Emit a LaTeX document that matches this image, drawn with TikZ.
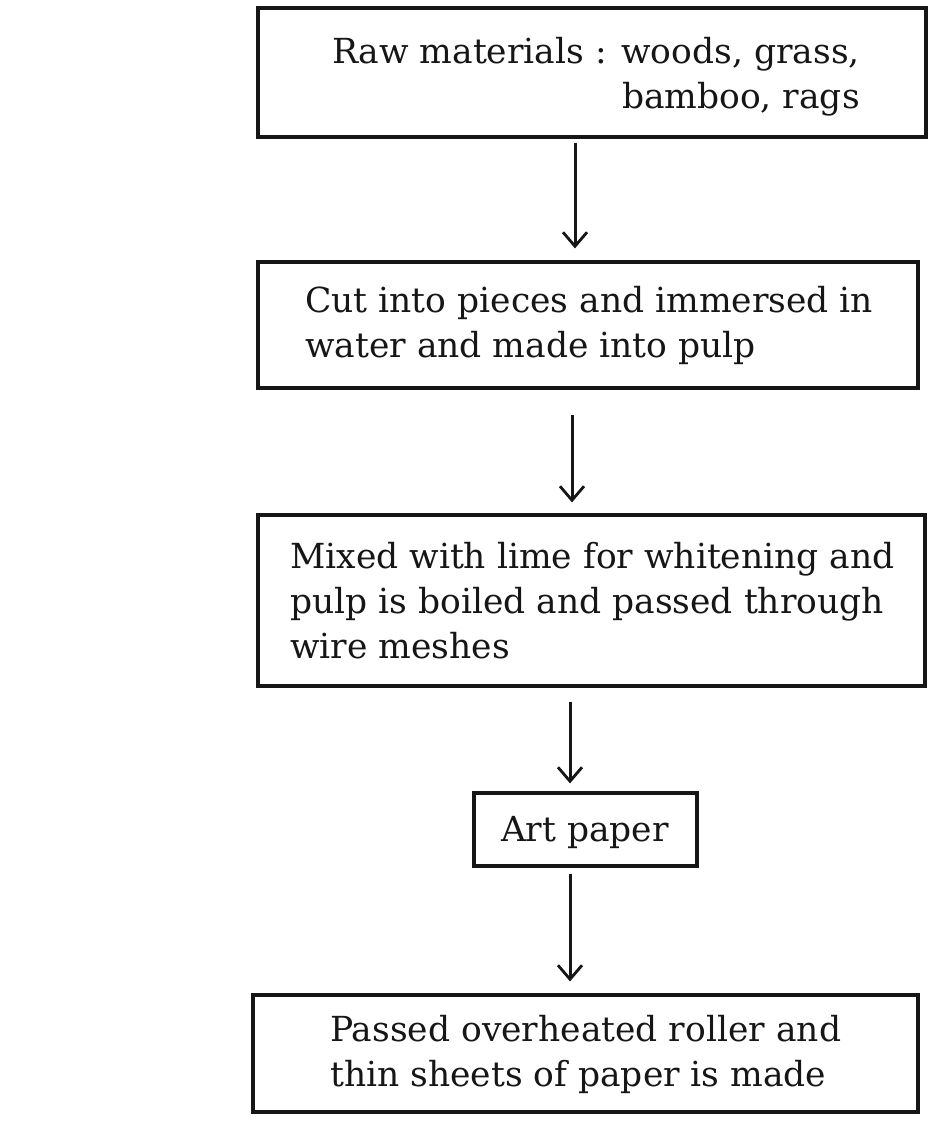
\documentclass[tikz,border=0pt]{standalone}
\usepackage{fontspec}
\setmainfont{DejaVu Serif}
\usetikzlibrary{arrows.meta}
\begin{document}
\begin{tikzpicture}[x=1pt,y=-1pt,
  box/.style={draw=ink,line width=3.2pt,rectangle,inner sep=0pt},
  txt/.style={inner sep=0pt,font=\fontsize{34.5}{45}\selectfont,text=ink},
  arr/.style={draw=ink,line width=3pt,-{Straight Barb[length=14pt,width=24pt,line width=2.8pt]}}]
\definecolor{ink}{RGB}{22,22,22}
\useasboundingbox[fill=white] (0,0) rectangle (929,1124);
% boxes
\node[box,minimum width=668pt,minimum height=129pt] (b1) at (592,72.5) {};
\node[box,minimum width=660pt,minimum height=126pt] (b2) at (588,325) {};
\node[box,minimum width=667pt,minimum height=171pt] (b3) at (591.5,600.5) {};
\node[box,minimum width=223pt,minimum height=73pt] (b4) at (585.5,829.5) {};
\node[box,minimum width=665pt,minimum height=117pt] (b5) at (585.5,1053.5) {};
% texts
\node[txt,align=right,anchor=east] (t1) at (860,77) {Raw materials : woods, grass,\\bamboo, rags};
\node[txt,align=left,anchor=west] (t2) at (305,325) {Cut into pieces and immersed in\\water and made into pulp};
\node[txt,align=left,anchor=west] (t3) at (290,601) {Mixed with lime for whitening and\\pulp is boiled and passed through\\wire meshes};
\node[txt] (t4) at (585,833) {Art paper};
\node[txt,align=left,anchor=west] (t5) at (330,1054) {Passed overheated roller and\\thin sheets of paper is made};
% arrows
\draw[arr] ([xshift=-17pt,yshift=-4pt]b1.south) -- ([xshift=-13pt,yshift=12pt]b2.north);
\draw[arr] ([xshift=-16pt,yshift=-25pt]b2.south) -- ([xshift=-19.5pt,yshift=11pt]b3.north);
\draw[arr] ([xshift=-21.5pt,yshift=-14pt]b3.south) -- ([xshift=-15.5pt,yshift=8pt]b4.north);
\draw[arr] ([xshift=-15.5pt,yshift=-6pt]b4.south) -- ([xshift=-15.5pt,yshift=12pt]b5.north);
\end{tikzpicture}
\end{document}
